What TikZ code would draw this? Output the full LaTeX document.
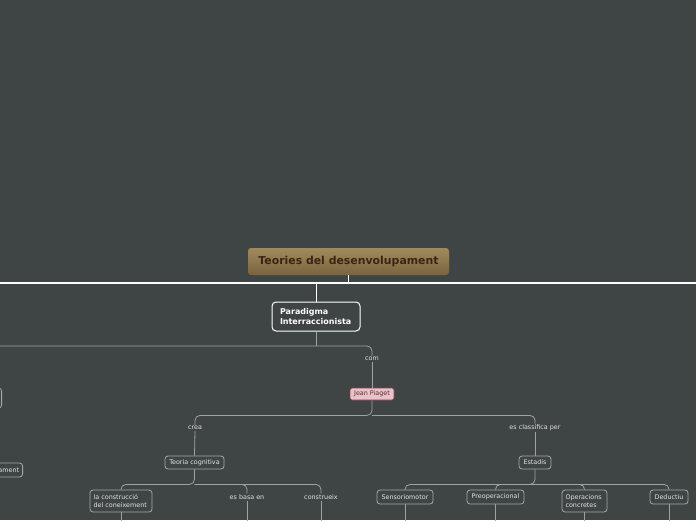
\documentclass[tikz,border=0pt]{standalone}
\usepackage{fontspec}
\setmainfont{DejaVu Sans}
\definecolor{bg}{HTML}{3F4545}
\definecolor{gline}{HTML}{9EA2A2}
\definecolor{gbox}{HTML}{A4A8A8}
\definecolor{gtext}{HTML}{E2E2E2}
\definecolor{goldtop}{HTML}{A08A5C}
\definecolor{goldbot}{HTML}{7A6440}
\definecolor{goldtext}{HTML}{3C2412}
\definecolor{pinkfill}{HTML}{E6C4C9}
\definecolor{pinkline}{HTML}{8A3A48}
\definecolor{pinktext}{HTML}{6A2434}
\tikzset{
  conn/.style={draw=gline, line width=0.8pt, rounded corners=5pt},
  wconn/.style={draw=white, line width=1.6pt},
  gbx/.style={draw=gbox, line width=0.8pt, rounded corners=3pt, text=gtext,
    font=\fontsize{6.4}{8}\selectfont, inner sep=0pt, minimum height=14pt, align=center},
  lbl/.style={text=gtext, font=\fontsize{6.4}{8}\selectfont, inner sep=1pt, fill=bg},
}
\begin{document}
\begin{tikzpicture}[x=1pt,y=-1pt]
\useasboundingbox (0,0) rectangle (696,520);
\clip (0,0) rectangle (696,520);
\fill[bg] (0,0) rectangle (696,520);

% nodes
\node[top color=goldtop, bottom color=goldbot, rounded corners=3pt, minimum width=201pt,
  minimum height=27pt, inner sep=0pt, text=goldtext, font=\fontsize{10.9}{12}\selectfont\bfseries]
  (T) at (348.5,261.5) {Teories del desenvolupament};
\node[draw=white, line width=1pt, rounded corners=4pt, minimum width=88pt, minimum height=29pt,
  inner sep=0pt, text=white, align=left, font=\fontsize{8}{9.2}\selectfont\bfseries,
  text width=72pt] (P) at (316,316.5) {Paradigma\\Interraccionista};
\node[lbl] (com) at (372,359) {com};
\node[draw=pinkline, fill=pinkfill, line width=0.8pt, rounded corners=2pt, minimum width=44pt,
  minimum height=12pt, inner sep=0pt, text=pinktext, font=\fontsize{6.4}{8}\selectfont]
  (JP) at (372,394) {Jean Piaget};
\node[lbl] (crea) at (195,428) {crea};
\node[lbl] (cls) at (535,428) {es classifica per};
\node[gbx, minimum width=59pt, minimum height=13pt] (TC) at (194.5,462.5) {Teoria cognitiva};
\node[gbx, minimum width=32pt, minimum height=13pt] (Est) at (535,462.5) {Estadis};
\node[gbx, minimum width=62pt, minimum height=22pt, align=left, text width=55pt] (LC) at (121,501)
  {la construcció\\del coneixement};
\node[lbl] (EB) at (247,497) {es basa en};
\node[lbl] (CO) at (321,497) {construeix};
\node[gbx, minimum width=56pt] (SE) at (405,497) {Sensoriomotor};
\node[gbx, minimum width=57pt] (PR) at (495.5,497) {Preoperacional};
\node[gbx, minimum width=45pt, minimum height=22pt, align=left, text width=38pt] (OC) at (584.5,501)
  {Operacions\\concretes};
\node[gbx, minimum width=38pt] (DE) at (669,497) {Deductiu};
\node[gbx, minimum width=40pt, minimum height=20pt, anchor=east] (L1) at (2,398) {};
\node[gbx, minimum width=50pt, anchor=east, align=right, text width=43pt] (L2) at (23,470) {ament};

% coordinates
\coordinate (wl) at (-5,283);
\coordinate (wr) at (701,283);
\coordinate (gl) at (-5,346);
\coordinate (bot) at (0,525);

% white main line
\draw[wconn] (wl) -- (wr);
\draw[wconn] (T.south) -- (T.south |- wl);
\draw[draw=white, line width=1pt] (P.north) -- (P.north |- wl);

% Paradigma branch
\draw[conn] (P.south) -- (P.south |- gl);
\draw[conn] (gl) -| (com.north);
\draw[conn] (com.south) -- (JP.north);

% Jean Piaget children
\draw[conn] (JP.south) -- ++(0,15) -| (crea.north);
\draw[conn] (JP.south) ++(0,15) -| (cls.north);
\draw[conn] (crea.south) -- (TC.north);
\draw[conn] (cls.south) -- (Est.north);

% Teoria cognitiva children
\draw[conn] (TC.south) -- ++(0,15) -| (LC.north);
\draw[conn] (TC.south) ++(0,15) -| (EB.north);
\draw[conn] (TC.south) ++(0,15) -| (CO.north);

% Estadis children
\draw[conn] (Est.south) -- ++(0,15) -| (SE.north);
\draw[conn] (Est.south) ++(0,15) -| (PR.north);
\draw[conn] (Est.south) ++(0,15) -| (OC.north);
\draw[conn] (Est.south) ++(0,15) -| (DE.north);

% continuing downward
\foreach \n in {LC,EB,CO,SE,PR,OC,DE}{
  \draw[conn] (\n.south) -- (\n.south |- bot);
}
\end{tikzpicture}
\end{document}
